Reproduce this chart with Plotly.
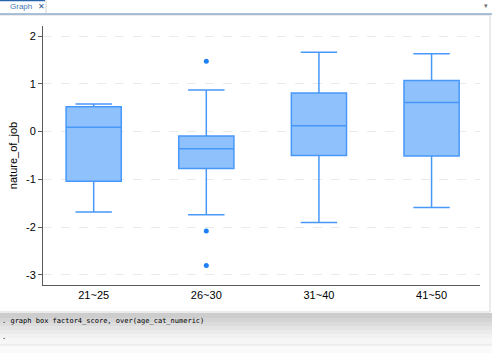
import plotly.graph_objects as go

# ---- data ----
categories = ["21~25", "26~30", "31~40", "41~50"]
q1_vals = [-1.04, -0.77, -0.50, -0.51]
median_vals = [0.09, -0.36, 0.12, 0.61]
q3_vals = [0.52, -0.09, 0.81, 1.07]
lower_whisker = [-1.68, -1.74, -1.90, -1.59]
upper_whisker = [0.58, 0.87, 1.66, 1.63]
outlier_cat = ["26~30", "26~30", "26~30"]
outlier_vals = [1.47, -2.08, -2.80]
y_ticks = [-3, -2, -1, 0, 1, 2]

W, H = 492, 353
L, R, T, B = 43, 480, 26, 285  # plot area in pixels


def px(x):
    return (x - L) / (R - L)


def py(y):
    return (B - y) / (B - T)


fig = go.Figure()
fig.add_trace(go.Box(
    x=categories,
    q1=q1_vals, median=median_vals, q3=q3_vals,
    lowerfence=lower_whisker, upperfence=upper_whisker,
    fillcolor="rgb(143,193,252)",
    line=dict(color="rgb(72,152,250)", width=1.5),
    width=0.49, whiskerwidth=0.66,
    boxpoints=False, showlegend=False, hoverinfo="y",
))
fig.add_trace(go.Scatter(
    x=outlier_cat, y=outlier_vals, mode="markers",
    marker=dict(color="rgb(30,128,248)", size=5),
    showlegend=False,
))

shapes = []
# bottom gray gradient (below window)
grad = [(313, 318, 205), (318, 322, 212), (322, 326, 220), (326, 330, 228),
        (330, 334, 235), (334, 338, 241), (338, 345, 246), (345, 353, 250)]
for y0, y1, g in grad:
    shapes.append(dict(type="rect", xref="paper", yref="paper",
                       x0=px(0), x1=px(W), y0=py(y1), y1=py(y0),
                       fillcolor=f"rgb({g},{g},{g})", line=dict(width=0), layer="below"))
shapes.append(dict(type="line", xref="paper", yref="paper",
                   x0=px(0), x1=px(W), y0=py(345), y1=py(345),
                   line=dict(color="rgb(228,228,228)", width=1), layer="below"))
# window edge
shapes.append(dict(type="rect", xref="paper", yref="paper",
                   x0=px(-2), x1=px(490), y0=py(312), y1=py(15),
                   fillcolor="white", line=dict(color="rgb(215,215,215)", width=1), layer="below"))
# top bar line
shapes.append(dict(type="line", xref="paper", yref="paper",
                   x0=px(0), x1=px(W), y0=py(14), y1=py(14),
                   line=dict(color="rgb(140,172,205)", width=1.5), layer="below"))
shapes.append(dict(type="line", xref="paper", yref="paper",
                   x0=px(0), x1=px(45), y0=py(0.5), y1=py(0.5),
                   line=dict(color="rgb(40,100,170)", width=1.5), layer="below"))
shapes.append(dict(type="line", xref="paper", yref="paper",
                   x0=px(46), x1=px(46), y0=py(0), y1=py(13),
                   line=dict(color="rgb(210,210,210)", width=1), layer="below"))

annotations = [
    dict(text="Graph", xref="paper", yref="paper", x=px(8), y=py(7),
         xanchor="left", yanchor="middle",
         showarrow=False, font=dict(size=8, color="rgb(70,120,180)", family="Liberation Sans")),
    dict(text="✕", xref="paper", yref="paper", x=px(41), y=py(7),
         xanchor="center", yanchor="middle",
         showarrow=False, font=dict(size=8, color="rgb(40,80,140)", family="DejaVu Sans")),
    dict(text="▾", xref="paper", yref="paper", x=px(486), y=py(6),
         xanchor="center", yanchor="middle",
         showarrow=False, font=dict(size=7, color="rgb(110,110,110)", family="DejaVu Sans")),
    dict(text=". graph box factor4_score, over(age_cat_numeric)", xref="paper", yref="paper",
         x=px(0), y=py(321), xanchor="left", yanchor="middle", showarrow=False,
         font=dict(size=7, color="black", family="DejaVu Sans Mono")),
    dict(text=".", xref="paper", yref="paper",
         x=px(0), y=py(337), xanchor="left", yanchor="middle", showarrow=False,
         font=dict(size=7, color="black", family="DejaVu Sans Mono")),
]

fig.update_layout(
    width=W, height=H,
    margin=dict(l=L, r=W - R, t=T, b=H - B, pad=0),
    paper_bgcolor="white", plot_bgcolor="white",
    font=dict(family="Liberation Sans, Arial", size=11, color="black"),
    shapes=shapes, annotations=annotations,
    xaxis=dict(
        type="category", categoryorder="array", categoryarray=categories,
        range=[-0.45, 3.43], showgrid=False, zeroline=False, automargin=False,
        showline=True, linecolor="rgb(90,90,90)", linewidth=1,
        ticks="", tickfont=dict(size=11),
    ),
    yaxis=dict(
        range=[-3.21, 2.21], tickvals=y_ticks, ticktext=[str(v) for v in y_ticks],
        showgrid=True, gridcolor="rgb(234,234,234)", griddash="dash", gridwidth=1,
        zeroline=False, showline=True, linecolor="rgb(90,90,90)", linewidth=1,
        ticks="outside", ticklen=4, tickcolor="rgb(90,90,90)", automargin=False,
        title=dict(text="nature_of_job", font=dict(size=11), standoff=6),
    ),
)

fig.write_html("out.html")
